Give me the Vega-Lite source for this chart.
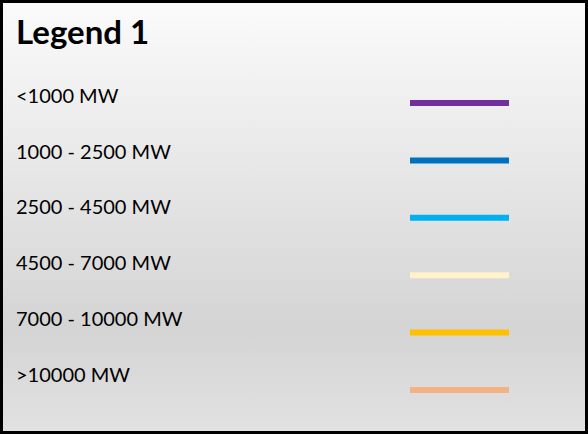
{
  "$schema": "https://vega.github.io/schema/vega-lite/v6.json",
  "width": 588,
  "height": 434,
  "autosize": {"type": "fit", "contains": "padding"},
  "padding": 0,
  "background": "#ffffff",
  "config": {
    "view": {
      "fill": {"gradient": "linear", "x1": 0, "y1": 0, "x2": 0, "y2": 1,
        "stops": [
          {"offset": 0, "color": "#fbfbfb"},
          {"offset": 0.76, "color": "#d4d4d4"},
          {"offset": 1, "color": "#e2e2e2"}
        ]},
      "stroke": "#000000",
      "strokeWidth": 6
    }
  },
  "datasets": {
    "heading": [{"label": "Legend 1"}],
    "rows": [
      {"label": "<1000 MW", "color": "#7030A0"},
      {"label": "1000 - 2500 MW", "color": "#0070C0"},
      {"label": "2500 - 4500 MW", "color": "#00B0F0"},
      {"label": "4500 - 7000 MW", "color": "#FFF2CC"},
      {"label": "7000 - 10000 MW", "color": "#FFC000"},
      {"label": ">10000 MW", "color": "#F4B183"}
    ]
  },
  "layer": [
    {
      "data": {"name": "heading"},
      "mark": {"type": "text", "align": "left", "baseline": "middle", "font": "Lato", "fontSize": 33, "fontWeight": "bold", "color": "#000000"},
      "encoding": {
        "x": {"datum": "text", "type": "nominal", "scale": {"type": "point", "domain": ["text", "swatch"], "range": [16, 459.5], "padding": 0}, "axis": null},
        "y": {"field": "label", "type": "nominal", "scale": {"type": "point", "range": [0, 68], "padding": 0.5}, "axis": null},
        "text": {"field": "label"}
      }
    },
    {
      "data": {"name": "rows"},
      "mark": {"type": "text", "align": "left", "baseline": "middle", "font": "Lato", "fontSize": 20, "color": "#000000"},
      "encoding": {
        "x": {"datum": "text", "type": "nominal", "scale": {"type": "point", "domain": ["text", "swatch"], "range": [16, 459.5], "padding": 0}, "axis": null},
        "y": {"field": "label", "type": "nominal", "sort": null, "scale": {"type": "point", "range": [97, 375.5], "padding": 0}, "axis": null},
        "text": {"field": "label"}
      }
    },
    {
      "data": {"name": "rows"},
      "mark": {"type": "tick", "orient": "horizontal", "size": 99, "thickness": 6, "opacity": 1},
      "encoding": {
        "x": {"datum": "swatch", "type": "nominal", "scale": {"type": "point", "domain": ["text", "swatch"], "range": [16, 459.5], "padding": 0}, "axis": null},
        "y": {"field": "label", "type": "nominal", "sort": null, "scale": {"type": "point", "range": [103, 390], "padding": 0}, "axis": null},
        "color": {"field": "color", "type": "nominal", "scale": null, "legend": null}
      }
    }
  ],
  "resolve": {"scale": {"y": "independent"}}
}
